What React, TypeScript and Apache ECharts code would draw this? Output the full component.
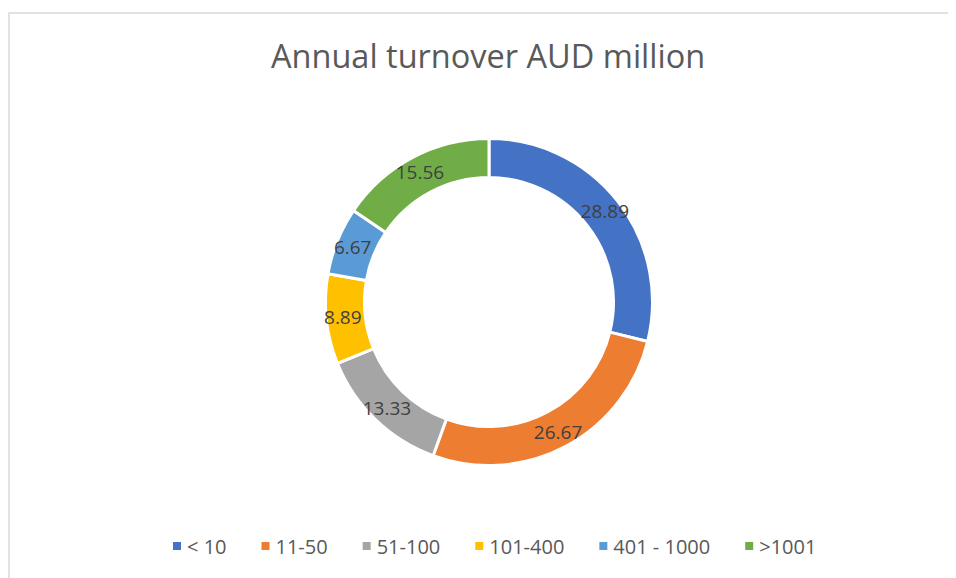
import React, { useEffect, useRef } from "react";
import * as echarts from "echarts";

const categories = ["< 10", "11-50", "51-100", "101-400", "401 - 1000", ">1001"];
const values = [28.89, 26.67, 13.33, 8.89, 6.67, 15.56];
const colors = ["#4472C4", "#ED7D31", "#A5A5A5", "#FFC000", "#5B9BD5", "#70AD47"];

export default function App() {
  const ref = useRef<HTMLDivElement>(null);
  useEffect(() => {
    const chart = echarts.init(ref.current!, undefined, { renderer: "svg" });
    chart.setOption({
      animation: false,
      backgroundColor: "#ffffff",
      title: {
        text: "Annual turnover AUD million",
        left: 258,
        top: 26,
        textStyle: { fontFamily: "Open Sans", fontSize: 32.5, fontWeight: "normal", color: "#595959" },
      },
      graphic: [
        {
          type: "rect",
          shape: { x: 1, y: 5, width: 1200, height: 1200 },
          style: { fill: "none", stroke: "#D9D9D9", lineWidth: 1.5 },
          silent: true,
        },
      ],
      legend: {
        bottom: 17,
        left: 158,
        icon: "rect",
        itemWidth: 10,
        itemHeight: 10,
        itemGap: 33,
        textStyle: { fontFamily: "Open Sans", fontSize: 20, color: "#595959" },
        data: categories,
      },
      series: [
        {
          type: "pie",
          center: [481, 294],
          radius: [124.5, 163.5],
          startAngle: 90,
          clockwise: true,
          avoidLabelOverlap: false,
          itemStyle: { borderColor: "#ffffff", borderWidth: 3 },
          label: {
            show: true,
            position: "inside",
            formatter: (p: any) => p.value.toFixed(2),
            fontFamily: "Open Sans",
            fontSize: 19,
            color: "#404040",
          },
          labelLine: { show: false },
          data: categories.map((c, i) => ({ name: c, value: values[i], itemStyle: { color: colors[i] } })),
        },
      ],
    });
    return () => chart.dispose();
  }, []);
  return <div ref={ref} style={{ width: 948, height: 570 }} />;
}
